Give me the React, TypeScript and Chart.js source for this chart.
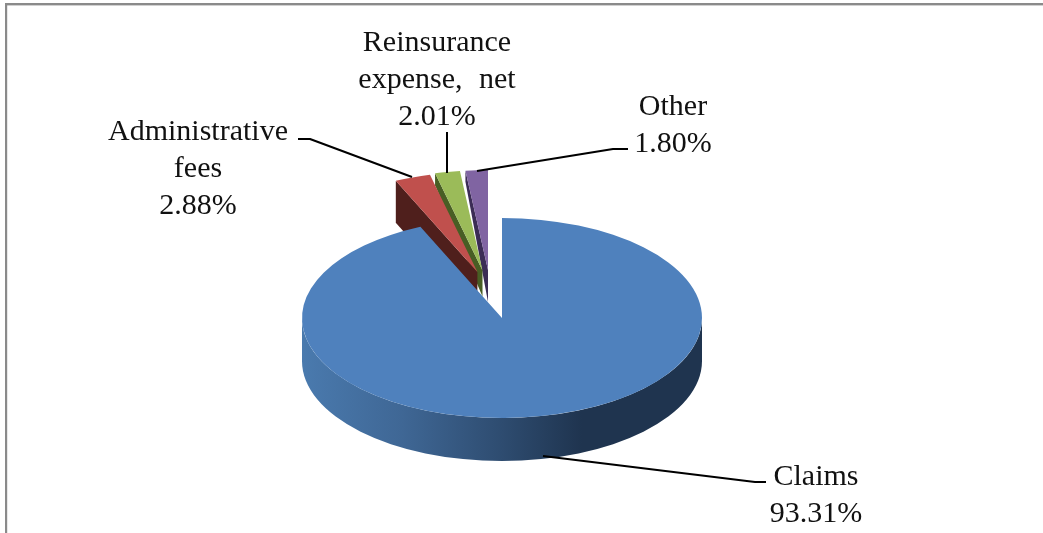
import React, { useEffect, useRef } from "react";
import { Chart, registerables } from "chart.js";

Chart.register(...registerables);

const categories = ["Claims", "Administrative fees", "Reinsurance expense, net", "Other"];
const shares = [93.31, 2.88, 2.01, 1.8];
const labelLines = [["Claims"], ["Administrative", "fees"], ["Reinsurance", "expense, net"], ["Other"]];

const topColors = ["#4f81bd", "#c0504d", "#9bbb59", "#8064a2"];
const wallColors = ["#2f4d70", "#4f1f1c", "#485e24", "#3b2c55"];

const CX = 502;
const CY = 318;
const RX = 200;
const RY = 100;
const DEPTH = 43;
const explode: [number, number][] = [[0, 0], [-24.6, -46], [-19.5, -47.6], [-14, -48]];
const wallOuterDepth = [0, 42, 12, 11];
const wallApexDepth = [0, 42, 26, 32];
const paintOrder = [3, 2, 1, 0];

const labelStyle = [
  { x: 816, base: 485, line: [[543, 456], [755, 482], [766, 482]] },
  { x: 198, base: 140, line: [[298, 139], [310, 139], [412, 177]] },
  { x: 437, base: 51, line: [[447, 132], [447, 173]] },
  { x: 673, base: 115, line: [[628, 149], [613, 149], [477, 171]] },
];
const LINE_GAP = 37;

const pie3d = {
  id: "pie3d",
  beforeDraw(chart: any) {
    const ctx = chart.ctx;
    ctx.save();
    ctx.fillStyle = "#ffffff";
    ctx.fillRect(0, 0, chart.width, chart.height);
    ctx.fillStyle = "#8a8a8a";
    ctx.fillRect(5, 3, chart.width - 5, 2.4);
    ctx.fillRect(5, 3, 2.2, chart.height - 3);
    ctx.restore();
  },
  beforeDatasetDraw(chart: any) {
    const ctx = chart.ctx;
    const arcs = chart.getDatasetMeta(0).data;
    for (const i of paintOrder) {
      const el = arcs[i];
      const [dx, dy] = explode[i];
      const cx = CX + dx;
      const cy = CY + dy;
      ctx.save();
      if (i === 0) {
        const grad = ctx.createLinearGradient(CX - RX, 0, CX + RX, 0);
        grad.addColorStop(0, "#4a7aae");
        grad.addColorStop(0.25, "#3f6795");
        grad.addColorStop(0.5, "#2e4c70");
        grad.addColorStop(0.7, "#1f344f");
        grad.addColorStop(1, "#1f344f");
        ctx.fillStyle = grad;
        ctx.beginPath();
        ctx.ellipse(cx, cy, RX, RY, 0, 0, Math.PI);
        ctx.ellipse(cx, cy + DEPTH, RX, RY, 0, Math.PI, 0, true);
        ctx.closePath();
        ctx.fill();
      } else {
        const a = el.startAngle;
        const ox = cx + RX * Math.cos(a);
        const oy = cy + RY * Math.sin(a);
        ctx.fillStyle = wallColors[i];
        ctx.beginPath();
        ctx.moveTo(ox, oy);
        ctx.lineTo(cx, cy);
        ctx.lineTo(cx, cy + wallApexDepth[i]);
        ctx.lineTo(ox, oy + wallOuterDepth[i]);
        ctx.closePath();
        ctx.fill();
      }
      ctx.translate(cx, cy);
      ctx.scale(RX / el.outerRadius, RY / el.outerRadius);
      ctx.translate(-el.x, -el.y);
      el.draw(ctx);
      ctx.restore();
    }
    return false;
  },
  afterDraw(chart: any) {
    const ctx = chart.ctx;
    ctx.save();
    ctx.strokeStyle = "#000000";
    ctx.lineWidth = 2;
    ctx.lineJoin = "round";
    labelStyle.forEach((s) => {
      ctx.beginPath();
      s.line.forEach(([x, y], k) => (k ? ctx.lineTo(x, y) : ctx.moveTo(x, y)));
      ctx.stroke();
    });
    ctx.fillStyle = "#111111";
    ctx.font = '30px "Liberation Serif"';
    ctx.textAlign = "center";
    ctx.textBaseline = "alphabetic";
    labelStyle.forEach((s, i) => {
      const rows = [...labelLines[i], shares[i].toFixed(2) + "%"];
      rows.forEach((t, k) => {
        (ctx as any).wordSpacing = t === "expense, net" ? "9px" : "0px";
        ctx.fillText(t, s.x, s.base + k * LINE_GAP);
      });
    });
    ctx.restore();
  },
};

export default function App() {
  const ref = useRef<HTMLCanvasElement>(null);
  useEffect(() => {
    const chart = new Chart(ref.current as HTMLCanvasElement, {
      type: "pie",
      data: {
        labels: categories,
        datasets: [{ data: shares, backgroundColor: topColors, borderWidth: 0 }],
      },
      options: {
        animation: false,
        responsive: false,
        devicePixelRatio: 1,
        plugins: { legend: { display: false }, tooltip: { enabled: false } },
      },
      plugins: [pie3d],
    } as any);
    return () => chart.destroy();
  }, []);
  return (
    <div style={{ position: "fixed", left: 0, top: 0, width: 1043, height: 533 }}>
      <canvas ref={ref} width={1043} height={533} style={{ display: "block" }} />
    </div>
  );
}
